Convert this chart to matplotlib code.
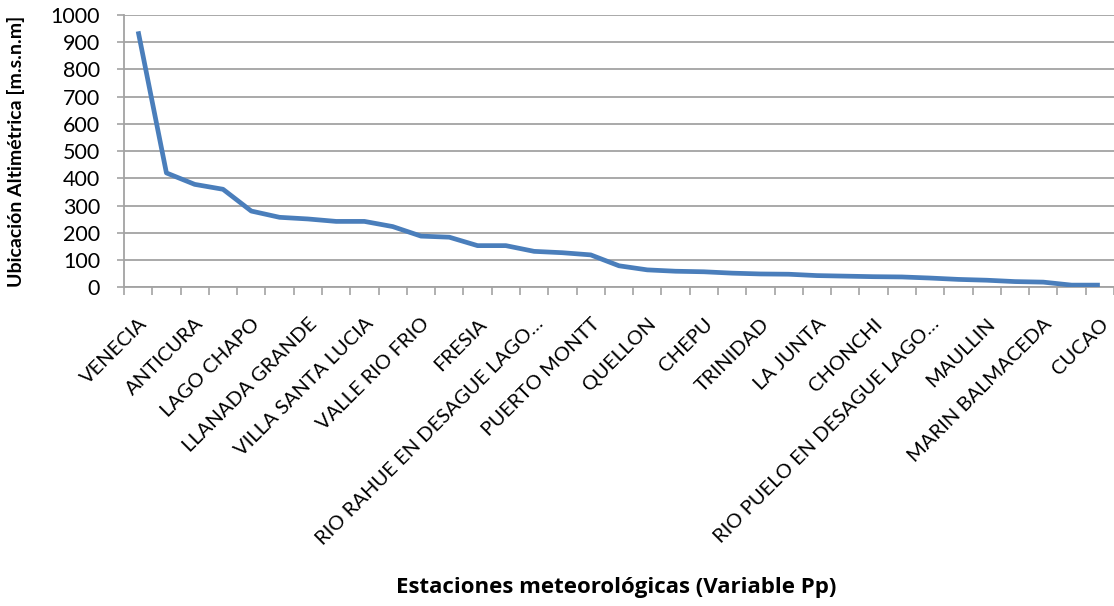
import numpy as np
import matplotlib
matplotlib.use("Agg")
import matplotlib.pyplot as plt
from matplotlib.transforms import ScaledTranslation

plt.rcParams['font.family'] = ['Lato', 'DejaVu Sans']

# Altitude of each station (m a.s.l.), sorted from highest to lowest
altitudes = [940, 420, 378, 360, 280, 257, 251, 242, 242, 223, 188, 184,
             153, 153, 132, 127, 119, 79, 64, 59, 57, 52, 49, 48, 43, 41,
             39, 38, 34, 29, 26, 21, 19, 8, 8]

# Every second station carries a visible name on the category axis
station_labels = ["VENECIA", "ANTICURA", "LAGO CHAPO", "LLANADA GRANDE",
                  "VILLA SANTA LUCIA", "VALLE RIO FRIO", "FRESIA",
                  "RIO RAHUE EN DESAGUE LAGO…", "PUERTO MONTT", "QUELLON",
                  "CHEPU", "TRINIDAD", "LA JUNTA", "CHONCHI",
                  "RIO PUELO EN DESAGUE LAGO…", "MAULLIN", "MARIN BALMACEDA",
                  "CUCAO"]

y_ticks = [0, 100, 200, 300, 400, 500, 600, 700, 800, 900, 1000]

x = np.arange(len(altitudes))

fig = plt.figure(figsize=(11.14, 6.06), dpi=100)
ax = fig.add_axes([124 / 1114, (606 - 287.3) / 606, 990 / 1114, (287.3 - 15) / 606])

grid_color = "#a3a3a3"
ax.plot(x, altitudes, color="#4a7ebb", lw=3.4, solid_capstyle="butt",
        solid_joinstyle="round", zorder=3)

ax.set_xlim(-0.5, len(altitudes) - 0.5)
ax.set_ylim(0, 1000)
ax.set_yticks(y_ticks)
ax.set_yticklabels([str(v) for v in y_ticks], fontsize=15.5)
ax.yaxis.grid(True, color=grid_color, lw=1.3)
ax.set_axisbelow(True)

# category boundary tick marks, labels on every second category
ax.set_xticks(np.arange(-0.5, len(altitudes), 1.0))
ax.set_xticklabels([])
ax.set_xticks(x[::2], minor=True)
ax.set_xticklabels(station_labels, minor=True, rotation=45, ha="right",
                   rotation_mode="anchor", fontsize=14.5)
shift = ScaledTranslation(-17 / 100, 0, fig.dpi_scale_trans)
for lbl in ax.get_xticklabels(minor=True):
    lbl.set_transform(lbl.get_transform() + shift)
ax.tick_params(axis="x", which="minor", length=0, pad=20)
ax.tick_params(axis="x", which="major", length=5.5, width=1.2,
               color=grid_color, direction="out")
ax.tick_params(axis="y", length=5, width=1.2, color=grid_color, pad=12.3)

for side in ("top", "right"):
    ax.spines[side].set_visible(False)
for side in ("left", "bottom"):
    ax.spines[side].set_color(grid_color)
    ax.spines[side].set_linewidth(1.3)

ax.set_ylabel("Ubicación Altimétrica [m.s.n.m]", fontsize=14,
              fontweight="bold")
ax.yaxis.set_label_coords(-99 / 990, 0.5)
fig.text(616 / 1114, 1 - 587 / 606, "Estaciones meteorológicas (Variable Pp)",
         ha="center", va="center", fontsize=16, fontweight="bold",
         family=["Open Sans", "DejaVu Sans"])

fig.savefig("out.png", dpi=100)
